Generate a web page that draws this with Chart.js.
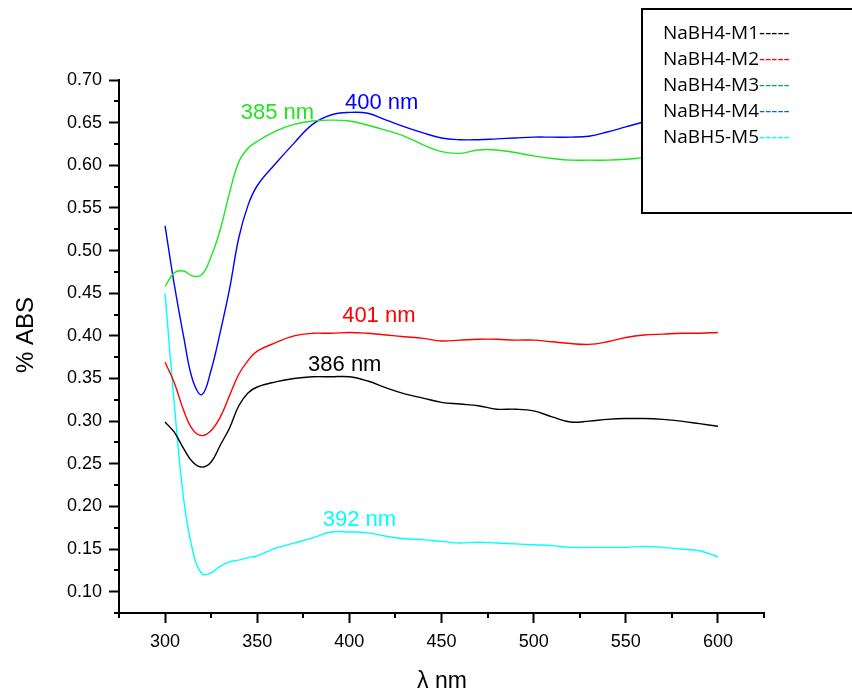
<!DOCTYPE html>
<html>
<head>
<meta charset="utf-8">
<script src="https://cdn.jsdelivr.net/npm/chart.js@4.4.0/dist/chart.umd.min.js"></script>
<style>
  html, body { margin: 0; padding: 0; background: #fff; }
  #wrap { width: 852px; height: 694px; position: relative; }
</style>
</head>
<body>
<div id="wrap"><canvas id="abs-chart"></canvas></div>
<script>
// comprimentos de onda (nm)
const wavelengths = [300, 305, 310, 315, 320, 325, 330, 335, 340, 345, 350, 360, 370, 380, 390, 400,
  410, 420, 430, 440, 450, 460, 470, 480, 490, 500, 510, 520, 530, 540, 550, 560, 570, 580, 590, 600];

// absorbancia
const m1 = [0.299, 0.287, 0.268, 0.252, 0.246, 0.252, 0.272, 0.292, 0.318, 0.333, 0.340, 0.346, 0.350, 0.352, 0.352, 0.352,
  0.347, 0.339, 0.332, 0.327, 0.322, 0.320, 0.318, 0.314, 0.314, 0.312, 0.305, 0.299, 0.300, 0.302, 0.303, 0.303, 0.302, 0.300, 0.297, 0.294];
const m2 = [0.369, 0.345, 0.313, 0.290, 0.283, 0.289, 0.305, 0.330, 0.355, 0.371, 0.382, 0.392, 0.400, 0.403, 0.403, 0.404,
  0.403, 0.401, 0.399, 0.397, 0.394, 0.395, 0.396, 0.396, 0.395, 0.395, 0.393, 0.391, 0.390, 0.393, 0.398, 0.401, 0.402, 0.403, 0.403, 0.404];
const m3 = [0.458, 0.474, 0.476, 0.470, 0.472, 0.493, 0.525, 0.568, 0.604, 0.620, 0.628, 0.640, 0.648, 0.652, 0.653, 0.652,
  0.647, 0.641, 0.634, 0.624, 0.616, 0.614, 0.618, 0.618, 0.615, 0.611, 0.608, 0.606, 0.606, 0.606, 0.607, 0.609, 0.610, 0.611, 0.612, 0.612];
const m4 = [0.529, 0.460, 0.400, 0.348, 0.331, 0.360, 0.405, 0.455, 0.515, 0.553, 0.576, 0.602, 0.626, 0.648, 0.659, 0.662,
  0.661, 0.653, 0.645, 0.638, 0.632, 0.630, 0.630, 0.631, 0.632, 0.633, 0.633, 0.633, 0.634, 0.639, 0.645, 0.651, 0.656, 0.660, 0.663, 0.665];
const m5 = [0.450, 0.320, 0.210, 0.148, 0.121, 0.122, 0.130, 0.135, 0.137, 0.140, 0.142, 0.151, 0.157, 0.163, 0.170, 0.170,
  0.169, 0.165, 0.162, 0.161, 0.159, 0.157, 0.158, 0.157, 0.156, 0.155, 0.154, 0.152, 0.152, 0.152, 0.152, 0.153, 0.152, 0.150, 0.148, 0.141];

const seriesNames = ['NaBH4-M1', 'NaBH4-M2', 'NaBH4-M3', 'NaBH4-M4', 'NaBH5-M5'];

// ticks
const xMajor = [300, 350, 400, 450, 500, 550, 600];
const xMinor = [275, 325, 375, 425, 475, 525, 575, 625];
const yMajor = [0.10, 0.15, 0.20, 0.25, 0.30, 0.35, 0.40, 0.45, 0.50, 0.55, 0.60, 0.65, 0.70];
const yMinor = [0.075, 0.125, 0.175, 0.225, 0.275, 0.325, 0.375, 0.425, 0.475, 0.525, 0.575, 0.625, 0.675];

// picos marcados
const peakTexts = ['385 nm', '400 nm', '401 nm', '386 nm', '392 nm'];
const peakX = [361.0, 417.5, 416.0, 397.5, 405.5];
const peakY = [0.661, 0.673, 0.423, 0.3655, 0.1836];

const lineColors = ['#000000', '#ff0000', '#1ee61e', '#0000ff', '#00ffff'];
const peakColors = ['#1ee61e', '#0000ff', '#ff0000', '#000000', '#00ffff'];
const legendDashColors = ['#000000', '#ff0000', '#00b050', '#0070c0', '#00ffff'];

const allSeries = [m1, m2, m3, m4, m5];

function toPoints(values) {
    return wavelengths.map(function(w, i) { return { x: w, y: values[i] }; });
}

const extrasPlugin = {
    id: 'extras',
    afterDraw: function(chart) {
        const ctx = chart.ctx;
        const xs = chart.scales.x;
        const ys = chart.scales.y;
        const area = chart.chartArea;
        ctx.save();

        // ticks menores
        ctx.strokeStyle = '#000';
        ctx.lineWidth = 2;
        ctx.beginPath();
        xMinor.forEach(function(v) {
            const px = Math.round(xs.getPixelForValue(v));
            ctx.moveTo(px, area.bottom);
            ctx.lineTo(px, area.bottom + 5);
        });
        yMinor.forEach(function(v) {
            const py = Math.round(ys.getPixelForValue(v));
            ctx.moveTo(area.left - 5, py);
            ctx.lineTo(area.left, py);
        });
        ctx.stroke();

        // rotulos dos picos
        ctx.font = '22px "Liberation Sans", Arial, sans-serif';
        ctx.textAlign = 'center';
        ctx.textBaseline = 'middle';
        peakTexts.forEach(function(t, i) {
            ctx.fillStyle = peakColors[i];
            ctx.fillText(t, xs.getPixelForValue(peakX[i]), ys.getPixelForValue(peakY[i]));
        });

        // titulos dos eixos
        ctx.fillStyle = '#000';
        ctx.font = '23px "Liberation Sans", Arial, sans-serif';
        ctx.fillText('\u03bb nm', 442, 682);
        ctx.save();
        ctx.translate(26, 335);
        ctx.rotate(-Math.PI / 2);
        ctx.font = '24px "Liberation Sans", Arial, sans-serif';
        ctx.fillText('% ABS', 0, 0);
        ctx.restore();

        // legenda
        ctx.fillStyle = '#fff';
        ctx.fillRect(642, 9, 220, 204);
        ctx.strokeStyle = '#000';
        ctx.lineWidth = 2;
        ctx.strokeRect(642, 9, 220, 204);
        ctx.font = '19px "Open Sans", "Noto Sans", sans-serif';
        ctx.textAlign = 'left';
        seriesNames.forEach(function(name, i) {
            const y = 34 + i * 26;
            ctx.fillStyle = '#000';
            ctx.fillText(name, 663, y);
            const w = ctx.measureText(name).width;
            ctx.fillStyle = legendDashColors[i];
            ctx.fillText('-----', 663 + w, y);
        });

        ctx.restore();
    }
};

window.addEventListener('load', function() {
    const canvas = document.getElementById('abs-chart');
    new Chart(canvas, {
        type: 'line',
        data: {
            datasets: allSeries.map(function(vals, i) {
                return {
                    label: seriesNames[i],
                    data: toPoints(vals),
                    borderColor: lineColors[i],
                    borderWidth: 1.4,
                    pointRadius: 0,
                    tension: 0.4,
                    fill: false
                };
            })
        },
        options: {
            responsive: true,
            maintainAspectRatio: false,
            animation: false,
            layout: { padding: { top: 80, right: 88, left: 0, bottom: 0 } },
            plugins: {
                legend: { display: false },
                tooltip: { enabled: false }
            },
            scales: {
                x: {
                    type: 'linear',
                    min: 275,
                    max: 625,
                    afterBuildTicks: function(scale) {
                        scale.ticks = xMajor.map(function(v) { return { value: v }; });
                    },
                    afterFit: function(scale) { scale.height = 81; },
                    ticks: {
                        color: '#000',
                        padding: 8,
                        maxRotation: 0,
                        font: { family: '"Liberation Sans", Arial, sans-serif', size: 18 },
                        callback: function(v) { return String(v); }
                    },
                    grid: {
                        display: true,
                        drawOnChartArea: false,
                        drawTicks: true,
                        tickLength: 10,
                        tickColor: '#000',
                        tickWidth: 2,
                        color: '#000'
                    },
                    border: { display: true, color: '#000', width: 2 }
                },
                y: {
                    type: 'linear',
                    min: 0.075,
                    max: 0.70,
                    afterBuildTicks: function(scale) {
                        scale.ticks = yMajor.map(function(v) { return { value: v }; });
                    },
                    afterFit: function(scale) { scale.width = 119; },
                    ticks: {
                        color: '#000',
                        padding: 7,
                        font: { family: '"Liberation Sans", Arial, sans-serif', size: 18 },
                        callback: function(v) { return Number(v).toFixed(2); }
                    },
                    grid: {
                        display: true,
                        drawOnChartArea: false,
                        drawTicks: true,
                        tickLength: 10,
                        tickColor: '#000',
                        tickWidth: 2,
                        color: '#000'
                    },
                    border: { display: true, color: '#000', width: 2 }
                }
            }
        },
        plugins: [extrasPlugin]
    });
});
</script>
</body>
</html>
